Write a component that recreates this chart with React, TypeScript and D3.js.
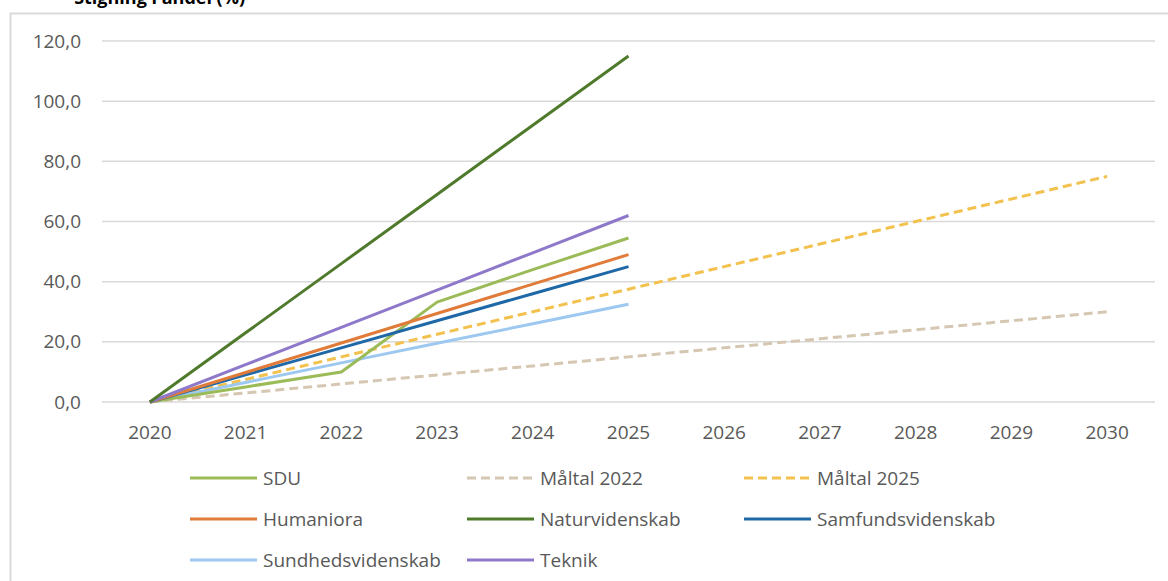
import * as d3 from "d3";
import React, { useEffect } from "react";

const years = ["2020", "2021", "2022", "2023", "2024", "2025", "2026", "2027", "2028", "2029", "2030"];
const yTicks = [0, 20, 40, 60, 80, 100, 120];

// values per year (null = no data)
const sdu = [0, 5, 10, 33.2, 44, 54.5];
const maltal2022 = [0, 3, 6, 9, 12, 15, 18, 21, 24, 27, 30];
const maltal2025 = [0, 7.5, 15, 22.5, 30, 37.5, 45, 52.5, 60, 67.5, 75];
const humaniora = [0, 9.8, 19.6, 29.4, 39.2, 49];
const naturvidenskab = [0, 23, 46, 69, 92, 115];
const samfundsvidenskab = [0, 9, 18, 27, 36, 45];
const sundhedsvidenskab = [0, 6.5, 13, 19.5, 26, 32.5];
const teknik = [0, 12.4, 24.8, 37.2, 49.6, 62];

const seriesNames = [
  "SDU",
  "Måltal 2022",
  "Måltal 2025",
  "Humaniora",
  "Naturvidenskab",
  "Samfundsvidenskab",
  "Sundhedsvidenskab",
  "Teknik",
];
const seriesValues = [sdu, maltal2022, maltal2025, humaniora, naturvidenskab, samfundsvidenskab, sundhedsvidenskab, teknik];
const seriesColors = ["#9bbb59", "#d6c7b3", "#f2c14e", "#e07b39", "#4f7a2c", "#1f68a8", "#9dc8f0", "#8e78c9"];
const seriesDashed = [false, true, true, false, false, false, false, false];

const W = 1168;
const H = 581;
const font = "'Open Sans', 'Liberation Sans', sans-serif";

export default function App() {
  useEffect(() => {
    document.body.style.margin = "0";
  }, []);

  const x = d3.scaleBand().domain(years).range([102, 1155]);
  const y = d3.scaleLinear().domain([0, 120]).range([402, 41]);
  const cx = (i: number) => x(years[i])! + x.bandwidth() / 2;

  const line = d3
    .line<number>()
    .x((_, i) => cx(i))
    .y((v) => y(v));

  // draw order: make Naturvidenskab etc. sit above the target lines
  const drawOrder = [1, 2, 6, 0, 5, 3, 7, 4];

  const legendCols = [190, 467, 744];
  const legendRows = [478, 519, 560];

  return (
    <svg width={W} height={H} style={{ display: "block", background: "#fff" }} fontFamily={font}>
      <text x={245} y={4} textAnchor="end" fontSize={18} fontWeight="bold" fill="#000">
        Stigning i andel (%)
      </text>
      <rect x={10.5} y={13.5} width={W} height={H} fill="none" stroke="#d9d9d9" strokeWidth={2} />

      {yTicks.map((t) => (
        <g key={t}>
          <line x1={102} x2={1155} y1={y(t)} y2={y(t)} stroke="#d9d9d9" strokeWidth={1.5} />
          <text x={81} y={y(t)} dy="0.35em" textAnchor="end" fontSize={19} fill="#595959">
            {d3.format(".1f")(t).replace(".", ",")}
          </text>
        </g>
      ))}

      {years.map((yr, i) => (
        <text key={yr} x={cx(i)} y={439} textAnchor="middle" fontSize={19} fill="#595959">
          {yr}
        </text>
      ))}

      {drawOrder.map((k) => (
        <path
          key={seriesNames[k]}
          d={line(seriesValues[k]) || ""}
          fill="none"
          stroke={seriesColors[k]}
          strokeWidth={3}
          strokeDasharray={seriesDashed[k] ? "9,5" : undefined}
          strokeLinejoin="round"
        />
      ))}

      {seriesNames.map((name, k) => {
        const lx = legendCols[k % 3];
        const ly = legendRows[Math.floor(k / 3)];
        return (
          <g key={name}>
            <line
              x1={lx}
              x2={lx + 67}
              y1={ly}
              y2={ly}
              stroke={seriesColors[k]}
              strokeWidth={3}
              strokeDasharray={seriesDashed[k] ? "9,5" : undefined}
            />
            <text x={lx + 73} y={ly} dy="0.35em" fontSize={19} fill="#595959">
              {name}
            </text>
          </g>
        );
      })}
    </svg>
  );
}
